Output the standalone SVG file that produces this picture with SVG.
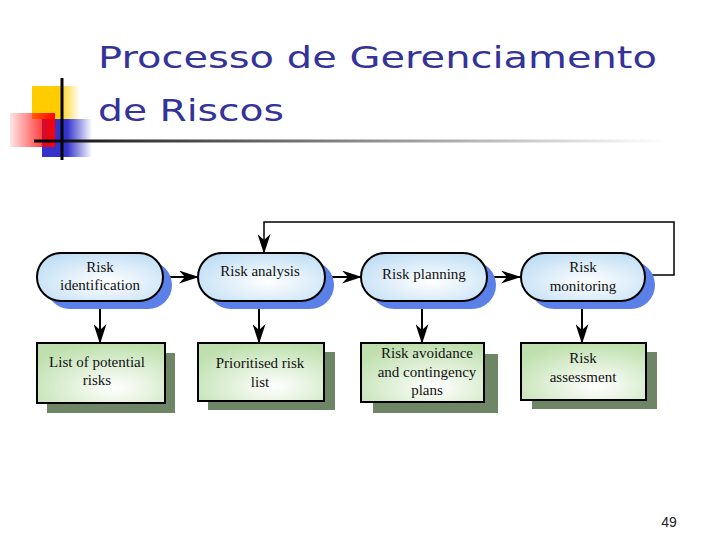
<svg xmlns="http://www.w3.org/2000/svg" width="720" height="540" viewBox="0 0 720 540">
<defs>
  <linearGradient id="yel" x1="0" y1="0" x2="1" y2="0">
    <stop offset="0" stop-color="#FFCC00"/>
    <stop offset="0.55" stop-color="#FFCC00"/>
    <stop offset="1" stop-color="#FFCC00" stop-opacity="0"/>
  </linearGradient>
  <linearGradient id="blu" x1="0" y1="0" x2="1" y2="0">
    <stop offset="0" stop-color="#3333CC"/>
    <stop offset="0.5" stop-color="#3333CC"/>
    <stop offset="1" stop-color="#3333CC" stop-opacity="0"/>
  </linearGradient>
  <linearGradient id="red" x1="0" y1="0" x2="1" y2="0">
    <stop offset="0" stop-color="#FF0000" stop-opacity="0.1"/>
    <stop offset="1" stop-color="#FF0000"/>
  </linearGradient>
  <linearGradient id="rule" gradientUnits="userSpaceOnUse" x1="34" y1="0" x2="665" y2="0">
    <stop offset="0" stop-color="#000"/>
    <stop offset="0.15" stop-color="#333"/>
    <stop offset="1" stop-color="#fff"/>
  </linearGradient>
  <radialGradient id="pill" cx="0.55" cy="0.6" r="0.7">
    <stop offset="0" stop-color="#FFFFFF"/>
    <stop offset="1" stop-color="#BCDCF4"/>
  </radialGradient>
  <radialGradient id="box" cx="0.6" cy="0.75" r="0.75">
    <stop offset="0" stop-color="#FFFFFF"/>
    <stop offset="1" stop-color="#BFE0AE"/>
  </radialGradient>
  <marker id="ah" viewBox="0 0 20 13" refX="19" refY="6.5" markerWidth="20" markerHeight="13" markerUnits="userSpaceOnUse" orient="auto">
    <path d="M0,0 L20,6.5 L0,13 L6,6.5 Z" fill="#000"/>
  </marker>
  <style>
    .title{font-family:"Comic Sans MS","DejaVu Sans",sans-serif;font-size:31px;fill:#333399}
    .pill{fill:url(#pill);stroke:#000;stroke-width:2}
    .pshadow{fill:#5B80E8}
    .box{fill:url(#box);stroke:#000;stroke-width:2}
    .bshadow{fill:#6E8566}
    .lbl{font-family:"Liberation Serif","Times New Roman",serif;font-size:15px;fill:#111;text-anchor:middle}
    .con{stroke:#000;stroke-width:2;fill:none}
    .fb{stroke:#000;stroke-width:1.5;fill:none}
  </style>
</defs>
<rect width="720" height="540" fill="#fff"/>

<g id="decoration">
  <rect x="32" y="86" width="48" height="33" fill="url(#yel)"/>
  <rect x="42" y="119" width="50" height="38" fill="url(#blu)"/>
  <rect x="10" y="113" width="45" height="34" fill="url(#red)"/>
  <line x1="34" y1="141" x2="665" y2="141" stroke="url(#rule)" stroke-width="3"/>
  <line x1="62" y1="78" x2="62" y2="160" stroke="#000" stroke-width="3"/>
</g>

<g id="title">
  <text class="title" x="98" y="68" textLength="559" lengthAdjust="spacingAndGlyphs">Processo de Gerenciamento</text>
  <text class="title" x="98" y="121" textLength="186" lengthAdjust="spacingAndGlyphs">de Riscos</text>
</g>

<g id="connectors">
  <line class="con" x1="163" y1="277" x2="198" y2="277" marker-end="url(#ah)"/>
  <line class="con" x1="325" y1="277" x2="361" y2="277" marker-end="url(#ah)"/>
  <line class="con" x1="487" y1="277" x2="520" y2="277" marker-end="url(#ah)"/>
  <line class="con" x1="100" y1="301" x2="100" y2="343" marker-end="url(#ah)"/>
  <line class="con" x1="259" y1="301" x2="259" y2="343" marker-end="url(#ah)"/>
  <line class="con" x1="422" y1="301" x2="422" y2="343" marker-end="url(#ah)"/>
  <line class="con" x1="582" y1="301" x2="582" y2="343" marker-end="url(#ah)"/>
  <polyline class="fb" points="645,275 674,275 674,222 264,222 264,253" marker-end="url(#ah)"/>
</g>

<g id="risk-identification">
  <rect class="pshadow" x="46" y="261" width="126" height="48" rx="24"/>
  <rect class="pill" x="37" y="253" width="126" height="48" rx="24"/>
  <text class="lbl" x="100" y="272">Risk</text>
  <text class="lbl" x="100" y="290">identification</text>
</g>
<g id="risk-analysis">
  <rect class="pshadow" x="207" y="261" width="127" height="48" rx="24"/>
  <rect class="pill" x="198" y="253" width="127" height="48" rx="24"/>
  <text class="lbl" x="260" y="276">Risk analysis</text>
</g>
<g id="risk-planning">
  <rect class="pshadow" x="370" y="261" width="126" height="48" rx="24"/>
  <rect class="pill" x="361" y="253" width="126" height="48" rx="24"/>
  <text class="lbl" x="424" y="279">Risk planning</text>
</g>
<g id="risk-monitoring">
  <rect class="pshadow" x="530" y="261" width="125" height="48" rx="24"/>
  <rect class="pill" x="521" y="253" width="124" height="48" rx="24"/>
  <text class="lbl" x="583" y="272">Risk</text>
  <text class="lbl" x="583" y="291">monitoring</text>
</g>

<g id="list-of-potential-risks">
  <rect class="bshadow" x="47" y="353" width="128" height="60"/>
  <rect class="box" x="37" y="343" width="128" height="60"/>
  <text class="lbl" x="97" y="367">List of potential</text>
  <text class="lbl" x="97" y="385">risks</text>
</g>
<g id="prioritised-risk-list">
  <rect class="bshadow" x="208" y="352" width="127" height="58"/>
  <rect class="box" x="198" y="343" width="126" height="58"/>
  <text class="lbl" x="260" y="368">Prioritised risk</text>
  <text class="lbl" x="260" y="387">list</text>
</g>
<g id="risk-avoidance">
  <rect class="bshadow" x="373" y="354" width="125" height="59"/>
  <rect class="box" x="361" y="343" width="123" height="59"/>
  <text class="lbl" x="427" y="358">Risk avoidance</text>
  <text class="lbl" x="427" y="377">and contingency</text>
  <text class="lbl" x="427" y="395">plans</text>
</g>
<g id="risk-assessment">
  <rect class="bshadow" x="532" y="352" width="125" height="57"/>
  <rect class="box" x="521" y="343" width="125" height="57"/>
  <text class="lbl" x="583" y="363">Risk</text>
  <text class="lbl" x="583" y="382">assessment</text>
</g>

<text x="669" y="527" font-family="Liberation Sans, Arial, sans-serif" font-size="14" fill="#222" text-anchor="middle">49</text>
</svg>
